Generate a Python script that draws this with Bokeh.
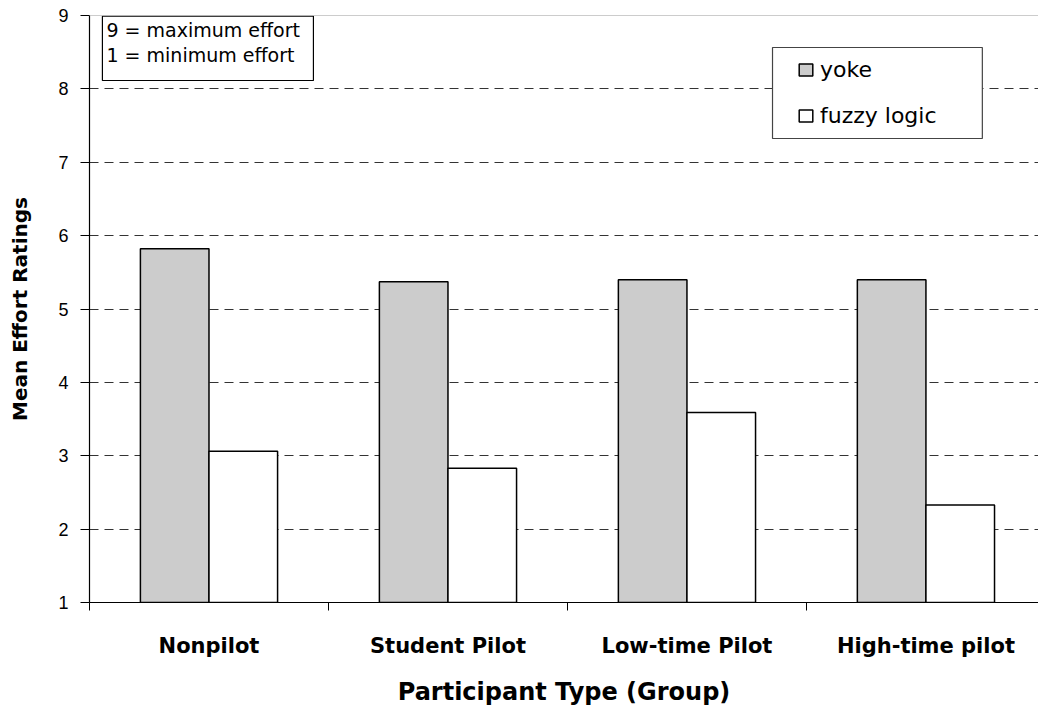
from bokeh.plotting import figure
from bokeh.models import (Range1d, FixedTicker, LinearAxis, ColumnDataSource, Span,
                          BoxAnnotation, Label, Legend, LegendItem)
from bokeh.transform import dodge
from bokeh.embed import file_html
from bokeh.resources import INLINE

categories = ["Nonpilot", "Student Pilot", "Low-time Pilot", "High-time pilot"]
yoke = [5.82, 5.37, 5.40, 5.40]
fuzzy = [3.06, 2.83, 3.59, 2.33]
y_ticks = [1, 2, 3, 4, 5, 6, 7, 8, 9]
series_names = ["yoke", "fuzzy logic"]
note_lines = ["9 = maximum effort", "1 = minimum effort"]

centers = [i + 0.5 for i in range(len(categories))]
src = ColumnDataSource(dict(center=centers, yoke=yoke, fuzzy=fuzzy, cat=categories))

W, H = 1038, 711
p = figure(width=W, height=H, output_backend="svg", toolbar_location=None,
           x_range=Range1d(0, 3.971), y_range=Range1d(1, 9),
           x_axis_location=None, y_axis_location=None,
           min_border_left=89, min_border_right=0, min_border_top=15, min_border_bottom=109)
p.outline_line_color = None
p.background_fill_color = "white"
p.border_fill_color = "white"

BW = 0.287
r_yoke = p.vbar(x=dodge("center", -BW / 2, range=p.x_range), top="yoke", bottom=1, width=BW,
                source=src, fill_color="#cccccc", line_color="black", line_width=1.5)
r_fuzzy = p.vbar(x=dodge("center", BW / 2, range=p.x_range), top="fuzzy", bottom=1, width=BW,
                 source=src, fill_color="white", line_color="black", line_width=1.5)

# grid
p.xgrid.visible = False
p.ygrid.ticker = FixedTicker(ticks=y_ticks[1:-1])
p.ygrid.grid_line_color = "#333333"
p.ygrid.grid_line_dash = "9 6"
p.ygrid.grid_line_width = 1
p.add_layout(Span(location=y_ticks[-1], dimension="width", line_color="#999999", line_width=1))

# y axis
yax = LinearAxis(ticker=FixedTicker(ticks=y_ticks), axis_label="Mean Effort Ratings")
yax.major_tick_out = 9
yax.major_tick_in = 0
yax.minor_tick_line_color = None
yax.axis_line_color = "black"
yax.axis_line_width = 1.2
yax.major_label_text_font = "Liberation Sans"
yax.major_label_text_font_size = "18px"
yax.major_label_text_color = "black"
yax.major_label_standoff = 12
yax.axis_label_text_font = "DejaVu Sans"
yax.axis_label_text_font_style = "bold"
yax.axis_label_text_font_size = "20px"
yax.axis_label_text_color = "black"
yax.axis_label_standoff = 23
p.add_layout(yax, "left")

# x axis: boundary ticks
xax1 = LinearAxis(ticker=FixedTicker(ticks=list(range(len(categories)))))
xax1.major_label_overrides = {i: "" for i in range(len(categories))}
xax1.major_label_text_font_size = "1px"
xax1.major_label_standoff = 0
xax1.major_tick_out = 8
xax1.major_tick_in = 0
xax1.minor_tick_line_color = None
xax1.axis_line_color = "black"
xax1.axis_line_width = 1.2
p.add_layout(xax1, "below")

# x axis: category labels
xax2 = LinearAxis(ticker=FixedTicker(ticks=centers), axis_label="Participant Type (Group)")
xax2.major_label_overrides = {c: n for c, n in zip(centers, categories)}
xax2.axis_line_color = None
xax2.major_tick_line_color = None
xax2.minor_tick_line_color = None
xax2.major_label_text_font = "DejaVu Sans"
xax2.major_label_text_font_style = "bold"
xax2.major_label_text_font_size = "21px"
xax2.major_label_text_color = "black"
xax2.major_label_standoff = 17
xax2.axis_label_text_font = "DejaVu Sans"
xax2.axis_label_text_font_style = "bold"
xax2.axis_label_text_font_size = "24px"
xax2.axis_label_text_color = "black"
xax2.axis_label_standoff = 17
p.add_layout(xax2, "below")

# note box
p.add_layout(BoxAnnotation(left=0.054, right=0.937, top=8.99, bottom=8.114,
                           fill_color="white", fill_alpha=1,
                           line_color="black", line_alpha=1, line_width=1.2))
for txt, yy in zip(note_lines, [8.796, 8.468]):
    p.add_layout(Label(x=0.071, y=yy, text=txt, text_baseline="middle",
                       text_font="DejaVu Sans", text_font_size="19px", text_color="black"))

# legend frame
p.add_layout(BoxAnnotation(left=2.858, right=3.736, top=8.564, bottom=7.324,
                           fill_color="white", fill_alpha=1,
                           line_color="#444444", line_alpha=1, line_width=1.2))

legend = Legend(items=[LegendItem(label=series_names[0], renderers=[r_yoke]),
                       LegendItem(label=series_names[1], renderers=[r_fuzzy])],
                location=(708, 474))
legend.border_line_color = None
legend.background_fill_alpha = 0
legend.label_text_font = "DejaVu Sans"
legend.label_text_font_size = "22px"
legend.label_text_color = "black"
legend.glyph_width = 17
legend.glyph_height = 15
legend.label_standoff = 6
legend.padding = 10
legend.spacing = 21
legend.margin = 0
p.add_layout(legend, "center")

open("out.html", "w").write(file_html(p, INLINE))
